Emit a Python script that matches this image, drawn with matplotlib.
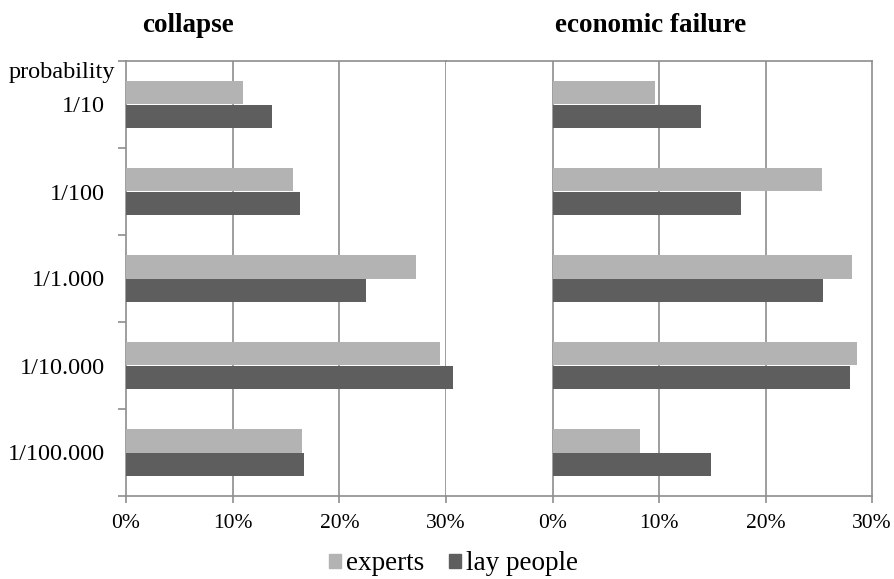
import matplotlib
matplotlib.use('Agg')
import matplotlib.pyplot as plt
import numpy as np
from matplotlib.patches import Patch

plt.rcParams['font.family'] = ['Liberation Serif', 'DejaVu Serif']

categories = ['1/10', '1/100', '1/1.000', '1/10.000', '1/100.000']
collapse_experts = [11.0, 15.65, 27.15, 29.4, 16.5]
collapse_lay = [13.7, 16.3, 22.5, 30.7, 16.7]
economic_experts = [9.6, 25.35, 28.1, 28.55, 8.25]
economic_lay = [13.9, 17.7, 25.4, 27.9, 14.9]
xticks = [0, 10, 20, 30]
xticklabels = ['0%', '10%', '20%', '30%']

light = '#b3b3b3'
dark = '#5e5e5e'
line_c = '#8e8e8e'
bar_h = 0.275

fig = plt.figure(figsize=(8.94, 5.79), dpi=100)
ax1 = fig.add_axes([126/894, 1-496/579, 320/894, 435/579])
ax2 = fig.add_axes([446/894, 1-496/579, 426/894, 435/579])
ax2.set_facecolor('none')

y = np.arange(len(categories))

# collapse
ax1.barh(y - bar_h/2, collapse_experts, height=bar_h, color=light, clip_on=False, zorder=3)
ax1.barh(y + bar_h/2, collapse_lay, height=bar_h, color=dark, clip_on=False, zorder=3)
ax1.set_xlim(0, 30)
ax1.set_ylim(len(categories) - 0.5, -0.5)
ax1.set_xticks(xticks)
ax1.set_xticklabels(xticklabels)
for v in [10, 20, 30]:
    ax1.axvline(v, color=line_c, lw=1.2, zorder=1)
ax1.set_yticks(np.arange(len(categories) + 1) - 0.5)
ax1.set_yticklabels([])
ax1.set_yticks(y, minor=True)
ax1.set_yticklabels(categories, minor=True, fontsize=17.5)
ax1.tick_params(axis='y', which='major', length=6, color=line_c, width=1.2)
ax1.tick_params(axis='y', which='minor', length=0, pad=15)
ax1.text(-0.034, -0.37, 'probability', transform=ax1.get_yaxis_transform(),
         ha='right', va='center', fontsize=17.5, clip_on=False)
ax1.spines['right'].set_visible(False)

# economic failure
ax2.barh(y - bar_h/2, economic_experts, height=bar_h, color=light, zorder=3)
ax2.barh(y + bar_h/2, economic_lay, height=bar_h, color=dark, zorder=3)
ax2.set_xlim(-10, 30)
ax2.set_ylim(len(categories) - 0.5, -0.5)
ax2.set_xticks(xticks)
ax2.set_xticklabels(xticklabels)
for v in [0, 10, 20]:
    ax2.axvline(v, color=line_c, lw=1.2, zorder=1)
ax2.set_yticks([])
ax2.spines['left'].set_visible(False)

for ax in (ax1, ax2):
    for s in ax.spines.values():
        s.set_color(line_c)
        s.set_linewidth(1.2)
    ax.tick_params(axis='x', length=5, color=line_c, width=1.2, pad=8, labelsize=15.5)

fig.text(142/894, 1-25/579, 'collapse', fontsize=19.5, fontweight='bold', ha='left', va='center')
fig.text(555/894, 1-25/579, 'economic failure', fontsize=19.5, fontweight='bold', ha='left', va='center')

handles = [Patch(color=light, label='experts'), Patch(color=dark, label='lay people')]
fig.legend(handles=handles, loc='center', bbox_to_anchor=(453.5/894, 1-564/579), ncol=2,
           frameon=False, fontsize=19.5, handlelength=0.45, handleheight=0.45,
           handletextpad=0.2, columnspacing=0.9)

fig.savefig('out.png', dpi=100)
